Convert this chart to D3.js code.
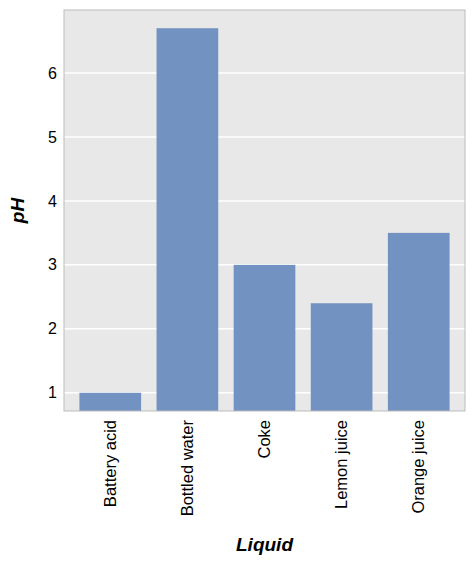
<!DOCTYPE html>
<html>
<head>
<meta charset="utf-8">
<script src="https://cdn.jsdelivr.net/npm/d3@7"></script>
<style>
  body { margin: 0; background: #fff; }
  text { font-family: "Liberation Sans", Arial, sans-serif; fill: #000; }
</style>
</head>
<body>
<div id="chart"></div>
<script>
var svgWidth = 475;
var svgHeight = 564;

// chart data
var liquids = ["Battery acid", "Bottled water", "Coke", "Lemon juice", "Orange juice"];
var phValues = [1.0, 6.7, 3.0, 2.4, 3.5];
var yTicks = [1, 2, 3, 4, 5, 6];

var margin = { top: 10, right: 10, bottom: 153, left: 64 };
var width = svgWidth - margin.left - margin.right;
var height = svgHeight - margin.top - margin.bottom;

var svg = d3.select("#chart")
    .append("svg")
    .attr("width", svgWidth)
    .attr("height", svgHeight);

var chartGroup = svg.append("g")
    .attr("transform", `translate(${margin.left}, ${margin.top})`);

var xScale = d3.scaleBand()
    .domain(liquids)
    .range([0, width])
    .paddingInner(0.2)
    .paddingOuter(0.2);

// matplotlib-style 5% margins around data range
var yMin = d3.min(phValues), yMax = d3.max(phValues);
var pad = (yMax - yMin) * 0.05;
var yScale = d3.scaleLinear()
    .domain([yMin - pad, yMax + pad])
    .range([height, 0]);

// background
chartGroup.append("rect")
    .attr("width", width)
    .attr("height", height)
    .attr("fill", "#e8e8e8");

// gridlines
chartGroup.append("g")
    .selectAll("line")
    .data(yTicks)
    .enter().append("line")
    .attr("x1", 0)
    .attr("x2", width)
    .attr("y1", d => yScale(d))
    .attr("y2", d => yScale(d))
    .attr("stroke", "#fff")
    .attr("stroke-width", 1.5);

// bars
chartGroup.append("g")
    .selectAll("rect")
    .data(phValues)
    .enter().append("rect")
    .attr("x", (d, i) => xScale(liquids[i]))
    .attr("y", d => yScale(d))
    .attr("width", xScale.bandwidth())
    .attr("height", d => height - yScale(d))
    .attr("fill", "#7292c1");

// frame
chartGroup.append("rect")
    .attr("width", width)
    .attr("height", height)
    .attr("fill", "none")
    .attr("stroke", "#bcbcbc")
    .attr("stroke-width", 1);

// y axis
var leftAxis = d3.axisLeft(yScale)
    .tickValues(yTicks)
    .tickSize(0)
    .tickPadding(7)
    .tickFormat(d3.format("d"));

var yAxis = chartGroup.append("g").call(leftAxis);
yAxis.select(".domain").remove();
yAxis.selectAll("text")
    .style("font-size", "16px")
    .style("font-family", "Liberation Sans, Arial, sans-serif");

// x axis
var bottomAxis = d3.axisBottom(xScale)
    .tickSize(0)
    .tickPadding(0);

var xAxis = chartGroup.append("g")
    .attr("transform", `translate(0, ${height})`)
    .call(bottomAxis);
xAxis.select(".domain").remove();
xAxis.selectAll("text")
    .style("font-size", "16.5px")
    .style("font-family", "Liberation Sans, Arial, sans-serif")
    .attr("text-anchor", "end")
    .attr("transform", "rotate(-90)")
    .attr("x", -9)
    .attr("y", 0)
    .attr("dy", "0.32em");

// axis titles
chartGroup.append("text")
    .attr("x", width / 2)
    .attr("y", height + 140)
    .attr("text-anchor", "middle")
    .style("font-size", "19px")
    .style("font-weight", "bold")
    .style("font-style", "italic")
    .text("Liquid");

chartGroup.append("text")
    .attr("transform", `rotate(-90)`)
    .attr("x", -height / 2)
    .attr("y", -40)
    .attr("text-anchor", "middle")
    .style("font-size", "19px")
    .style("font-weight", "bold")
    .style("font-style", "italic")
    .text("pH");
</script>
</body>
</html>
